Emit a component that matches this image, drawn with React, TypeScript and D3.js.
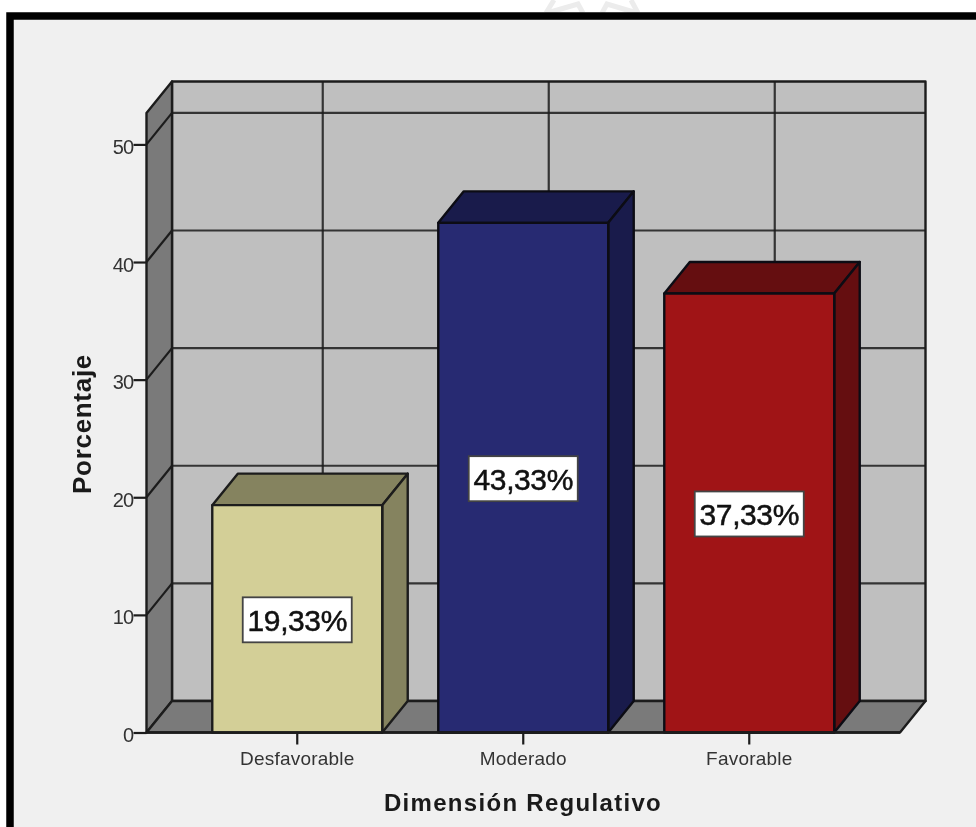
import React from 'react';
import { scaleBand, scaleLinear, select, axisLeft, axisBottom } from 'd3';

const categories = ['Desfavorable', 'Moderado', 'Favorable'];
const values = [19.33, 43.33, 37.33];
const valueLabels = ['19,33%', '43,33%', '37,33%'];
const frontColors = ['#d3cf97', '#272a72', '#a01416'];
const topColors = ['#85835f', '#191b4b', '#650e10'];
const yTicks = [0, 10, 20, 30, 40, 50];

const frame = { left: 146.5, right: 900, bottom: 732.5, top: 113 };
const depth = { x: 25.5, y: 31.5 };
const yMax = 52.67;
const lineColor = '#1c1c1c';

const App: React.FC = () => {
    const svgRef = React.useRef<SVGSVGElement>(null);

    React.useEffect(() => {
        const svg = select(svgRef.current);
        svg.selectAll('*').remove();

        const y = scaleLinear().domain([0, yMax]).range([frame.bottom, frame.top]);
        const x = scaleBand()
            .domain(categories)
            .range([frame.left, frame.right])
            .paddingInner(0.248)
            .paddingOuter(0.291);

        const poly = (pts: number[][], fill: string, stroke = lineColor, sw = 2.4) =>
            svg.append('polygon')
                .attr('points', pts.map(p => p.join(',')).join(' '))
                .attr('fill', fill)
                .attr('stroke', stroke)
                .attr('stroke-width', sw)
                .attr('stroke-linejoin', 'round');

        // page and frame
        svg.append('rect').attr('width', 976).attr('height', 827).attr('fill', '#ffffff');

        // faint watermark cut off by the frame
        svg.append('path')
            .attr('d', 'M547 13 L578 4 L583 13 M602 13 L607 4 L637 13 M554 0 L546 13 M631 0 L638 13')
            .attr('fill', 'none').attr('stroke', '#ececec').attr('stroke-width', 5);

        svg.append('rect').attr('x', 10).attr('y', 16).attr('width', 980).attr('height', 830)
            .attr('fill', '#f0f0f0').attr('stroke', '#000000').attr('stroke-width', 7.5);

        const { left: l, right: r, bottom: b, top: t } = frame;
        const dx = depth.x;
        const dy = depth.y;

        // walls and floor
        poly([[l + dx, t - dy], [r + dx, t - dy], [r + dx, b - dy], [l + dx, b - dy]], '#bfbfbf');
        poly([[l, t], [l + dx, t - dy], [l + dx, b - dy], [l, b]], '#7a7a7a');
        poly([[l, b], [l + dx, b - dy], [r + dx, b - dy], [r, b]], '#7a7a7a');

        // gridlines on the back and side wall
        yTicks.slice(1).forEach(v => {
            svg.append('line').attr('x1', l + dx).attr('x2', r + dx)
                .attr('y1', y(v) - dy).attr('y2', y(v) - dy)
                .attr('stroke', lineColor).attr('stroke-width', 2.2).attr('opacity', 0.85);
            svg.append('line').attr('x1', l).attr('x2', l + dx)
                .attr('y1', y(v)).attr('y2', y(v) - dy)
                .attr('stroke', lineColor).attr('stroke-width', 2.2);
        });
        categories.forEach(c => {
            const cx = x(c)! + x.bandwidth() / 2 + dx;
            svg.append('line').attr('x1', cx).attr('x2', cx)
                .attr('y1', t - dy).attr('y2', b - dy)
                .attr('stroke', lineColor).attr('stroke-width', 2.2).attr('opacity', 0.85);
        });

        // axes
        const yAxis = axisLeft(y).tickValues(yTicks).tickSize(13).tickFormat(d => `${d}`);
        const yGroup = svg.append('g').attr('transform', `translate(${l}, 0)`).call(yAxis);
        yGroup.select('.domain').remove();
        yGroup.selectAll('line').attr('stroke', lineColor).attr('stroke-width', 2.2);
        yGroup.selectAll('text')
            .attr('x', -13).attr('dy', '0.45em')
            .attr('font-family', 'Liberation Sans').attr('font-size', 20).attr('fill', '#333333')
            .style('letter-spacing', '-0.7px');

        const xAxis = axisBottom(x).tickSize(12).tickPadding(7);
        const xGroup = svg.append('g').attr('transform', `translate(0, ${b})`).call(xAxis);
        xGroup.select('.domain').remove();
        xGroup.selectAll('line').attr('stroke', lineColor).attr('stroke-width', 2.2);
        xGroup.selectAll('text')
            .attr('font-family', 'Liberation Sans').attr('font-size', 19).attr('fill', '#333333')
            .style('letter-spacing', '0.2px');

        // bars
        categories.forEach((c, i) => {
            const x0 = x(c)!;
            const x1 = x0 + x.bandwidth();
            const yTop = y(values[i]);
            const edge = i === 0 ? lineColor : '#0c0c14';
            poly([[x0, yTop], [x0 + dx, yTop - dy], [x1 + dx, yTop - dy], [x1, yTop]], topColors[i], edge);
            poly([[x1, yTop], [x1 + dx, yTop - dy], [x1 + dx, b - dy], [x1, b]], topColors[i], edge);
            poly([[x0, yTop], [x1, yTop], [x1, b], [x0, b]], frontColors[i], edge);
        });
        svg.append('line').attr('x1', l).attr('x2', r).attr('y1', b).attr('y2', b)
            .attr('stroke', lineColor).attr('stroke-width', 2.6);

        // value labels
        categories.forEach((c, i) => {
            const cx = x(c)! + x.bandwidth() / 2;
            const cy = (y(values[i]) + b) / 2 + 1;
            svg.append('rect').attr('x', cx - 54.5).attr('y', cy - 22.5).attr('width', 109).attr('height', 45)
                .attr('fill', '#ffffff').attr('stroke', '#444444').attr('stroke-width', 1.8);
            svg.append('text').attr('x', cx).attr('y', cy + 11)
                .attr('text-anchor', 'middle')
                .attr('font-family', 'Liberation Sans').attr('font-size', 30)
                .attr('letter-spacing', -0.4)
                .attr('fill', '#111111').attr('stroke', '#111111').attr('stroke-width', 0.5)
                .text(valueLabels[i]);
        });

        // axis titles
        svg.append('text').attr('x', 523).attr('y', 811)
            .attr('text-anchor', 'middle')
            .attr('font-family', 'Liberation Sans').attr('font-size', 24).attr('font-weight', 'bold')
            .attr('letter-spacing', 1.3).attr('fill', '#1a1a1a')
            .text('Dimensión Regulativo');
        svg.append('text').attr('transform', 'translate(91, 424) rotate(-90)')
            .attr('text-anchor', 'middle')
            .attr('font-family', 'Liberation Sans').attr('font-size', 26).attr('font-weight', 'bold')
            .attr('letter-spacing', 0.7).attr('fill', '#1a1a1a')
            .text('Porcentaje');
    }, []);

    return (
        <svg
            ref={svgRef}
            width={976}
            height={827}
            style={{ position: 'absolute', left: 0, top: 0, filter: 'blur(0.5px)' }}
        />
    );
};

export default App;
